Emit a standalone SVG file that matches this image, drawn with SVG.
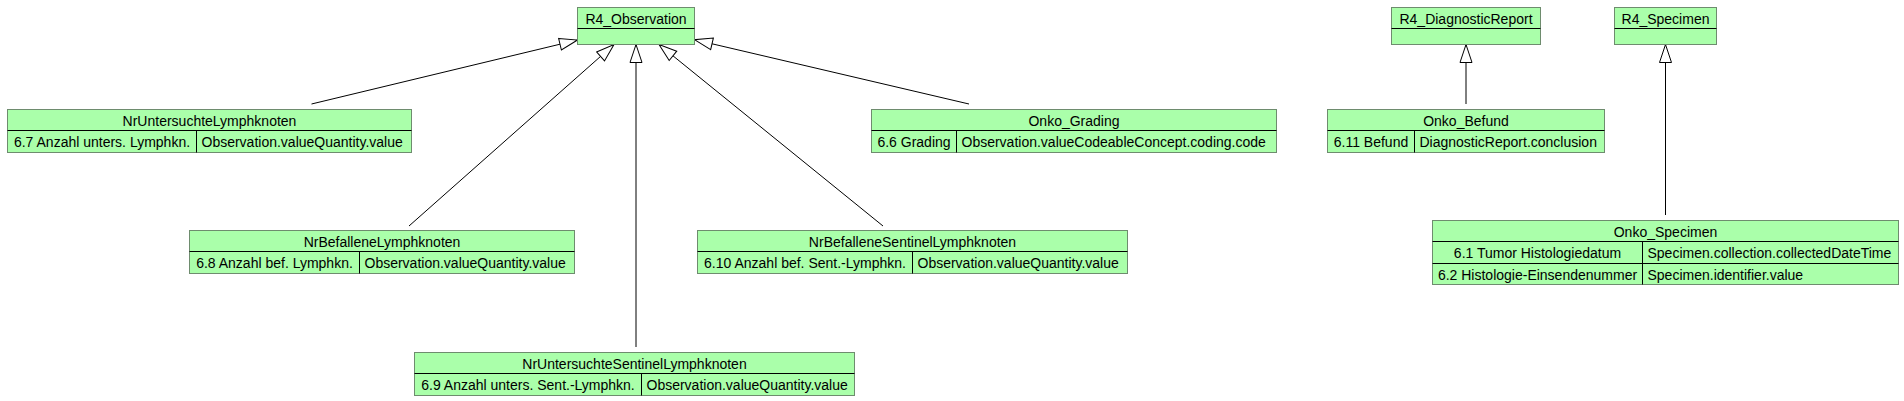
<svg xmlns="http://www.w3.org/2000/svg" width="1904" height="401" viewBox="0 0 1904 401">
<defs>
<style>
.box{fill:#aaffaa;stroke:#6e8c6e;stroke-width:1}
.div{stroke:#000;stroke-width:1;fill:none}
.t{font-family:"Liberation Sans",Arial,sans-serif;font-size:14px;fill:#000}
.c{text-anchor:middle}
.edge{stroke:#000;stroke-width:1;fill:none;marker-end:url(#tri)}
</style>
<marker id="tri" markerUnits="userSpaceOnUse" markerWidth="20" markerHeight="14" viewBox="0 0 20 14" refX="19" refY="7" orient="auto">
<path d="M1,1 L19,7 L1,13 Z" fill="#fff" stroke="#000" stroke-width="1"/>
</marker>
</defs>
<rect width="1904" height="401" fill="#fff"/>
<g id="connectors">
<line class="edge" x1="311.5" y1="104" x2="577.5" y2="40"/>
<line class="edge" x1="409" y1="226" x2="614" y2="44.5"/>
<line class="edge" x1="636" y1="347" x2="636" y2="44.5"/>
<line class="edge" x1="883" y1="226" x2="659" y2="44.5"/>
<line class="edge" x1="969" y1="104" x2="694.5" y2="39.7"/>
<line class="edge" x1="1466" y1="104" x2="1466" y2="44.5"/>
<line class="edge" x1="1665.5" y1="215" x2="1665.5" y2="44.5"/>
</g>
<g id="R4_Observation">
<rect class="box" x="577.5" y="7.5" width="117" height="37"/>
<line class="div" x1="577.5" y1="28.5" x2="694.5" y2="28.5"/>
<text class="t c" x="636" y="24">R4_Observation</text>
</g>
<g id="R4_DiagnosticReport">
<rect class="box" x="1391.5" y="7.5" width="149" height="37"/>
<line class="div" x1="1391.5" y1="28.5" x2="1540.5" y2="28.5"/>
<text class="t c" x="1466" y="24">R4_DiagnosticReport</text>
</g>
<g id="R4_Specimen">
<rect class="box" x="1614.5" y="7.5" width="102" height="37"/>
<line class="div" x1="1614.5" y1="28.5" x2="1716.5" y2="28.5"/>
<text class="t c" x="1665.5" y="24">R4_Specimen</text>
</g>
<g id="NrUntersuchteLymphknoten">
<rect class="box" x="7.5" y="109.5" width="404" height="43"/>
<path class="div" d="M7.5,130.5 H411.5 M196.5,130.5 V152.5"/>
<text class="t c" x="209.5" y="126">NrUntersuchteLymphknoten</text>
<text class="t c" x="102" y="147">6.7 Anzahl unters. Lymphkn.</text>
<text class="t" x="201.5" y="147">Observation.valueQuantity.value</text>
</g>
<g id="Onko_Grading">
<rect class="box" x="871.5" y="109.5" width="405" height="43"/>
<path class="div" d="M871.5,130.5 H1276.5 M956.5,130.5 V152.5"/>
<text class="t c" x="1074" y="126">Onko_Grading</text>
<text class="t c" x="914" y="147">6.6 Grading</text>
<text class="t" x="961.5" y="147">Observation.valueCodeableConcept.coding.code</text>
</g>
<g id="Onko_Befund">
<rect class="box" x="1327.5" y="109.5" width="277" height="43"/>
<path class="div" d="M1327.5,130.5 H1604.5 M1414.5,130.5 V152.5"/>
<text class="t c" x="1466" y="126">Onko_Befund</text>
<text class="t c" x="1371" y="147">6.11 Befund</text>
<text class="t" x="1419.5" y="147">DiagnosticReport.conclusion</text>
</g>
<g id="NrBefalleneLymphknoten">
<rect class="box" x="189.5" y="230.5" width="385" height="43"/>
<path class="div" d="M189.5,251.5 H574.5 M359.5,251.5 V273.5"/>
<text class="t c" x="382" y="247">NrBefalleneLymphknoten</text>
<text class="t c" x="274.5" y="268">6.8 Anzahl bef. Lymphkn.</text>
<text class="t" x="364.5" y="268">Observation.valueQuantity.value</text>
</g>
<g id="NrBefalleneSentinelLymphknoten">
<rect class="box" x="697.5" y="230.5" width="430" height="43"/>
<path class="div" d="M697.5,251.5 H1127.5 M912.5,251.5 V273.5"/>
<text class="t c" x="912.5" y="247">NrBefalleneSentinelLymphknoten</text>
<text class="t c" x="805" y="268">6.10 Anzahl bef. Sent.-Lymphkn.</text>
<text class="t" x="917.5" y="268">Observation.valueQuantity.value</text>
</g>
<g id="Onko_Specimen">
<rect class="box" x="1432.5" y="220.5" width="466" height="64"/>
<path class="div" d="M1432.5,241.5 H1898.5 M1432.5,263.5 H1898.5 M1642.5,241.5 V284.5"/>
<text class="t c" x="1665.5" y="237">Onko_Specimen</text>
<text class="t c" x="1537.5" y="258">6.1 Tumor Histologiedatum</text>
<text class="t" x="1647.5" y="258">Specimen.collection.collectedDateTime</text>
<text class="t c" x="1537.5" y="280">6.2 Histologie-Einsendenummer</text>
<text class="t" x="1647.5" y="280">Specimen.identifier.value</text>
</g>
<g id="NrUntersuchteSentinelLymphknoten">
<rect class="box" x="414.5" y="352.5" width="440" height="43"/>
<path class="div" d="M414.5,373.5 H854.5 M641.5,373.5 V395.5"/>
<text class="t c" x="634.5" y="369">NrUntersuchteSentinelLymphknoten</text>
<text class="t c" x="528" y="390">6.9 Anzahl unters. Sent.-Lymphkn.</text>
<text class="t" x="646.5" y="390">Observation.valueQuantity.value</text>
</g>
</svg>
